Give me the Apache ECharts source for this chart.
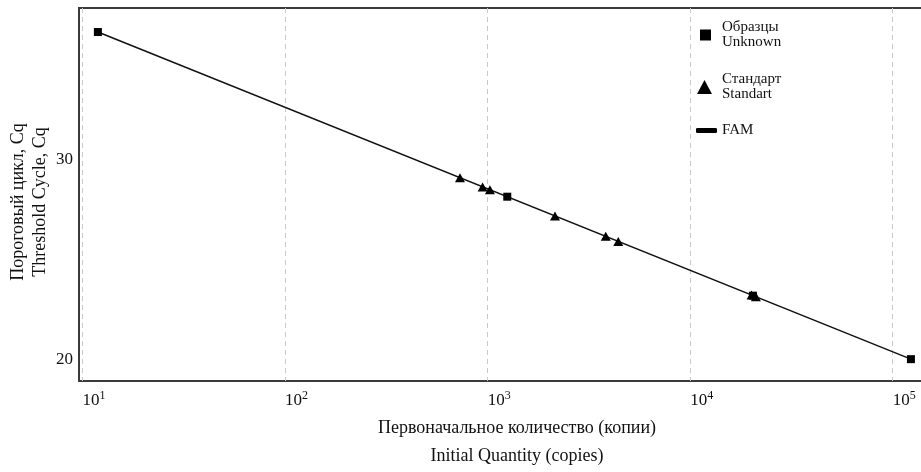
<!DOCTYPE html>
<html>
<head>
<meta charset="utf-8">
<script src="https://cdn.jsdelivr.net/npm/echarts@6/dist/echarts.min.js"></script>
<style>
  html, body { margin: 0; padding: 0; background: #fff; }
  #chart { width: 921px; height: 472px; }
</style>
</head>
<body>
<div id="chart"></div>
<script>
// образцы (unknown): initial quantity, copies / Cq
var unknownCopies = [11.9, 1250, 20400, 123000];
var unknownCq = [36.35, 28.13, 23.19, 20.02];
// стандарты
var standardCopies = [730, 944, 1026, 2150, 3830, 4415, 20100, 21100];
var standardCq = [29.08, 28.62, 28.48, 27.17, 26.15, 25.90, 23.22, 23.13];
// FAM standard curve
var famCopies = [11.9, 123000];
var famCq = [36.35, 20.02];
var yTicks = [20, 30];

var legendNames = {
  'Образцы': 'Образцы\nUnknown',
  'Стандарт': 'Стандарт\nStandart',
  'FAM': 'FAM'
};

function pairs(xs, ys) {
  return xs.map(function (x, i) { return [x, ys[i]]; });
}

var FONT = 'Liberation Serif';
var chart = echarts.init(document.getElementById('chart'));

var legendText = {
  fontFamily: FONT, fontSize: 15, color: '#111', lineHeight: 15, padding: [0, 0, 0, 6]
};
var gridLine = { color: '#c9c9c9', type: [5, 4], width: 1 };

var option = {
  animation: false,
  textStyle: { fontFamily: FONT },
  grid: {
    left: 79, top: 8, right: -34, bottom: 91,
    outerBoundsMode: 'none',
    containLabel: false,
    show: true, borderColor: '#3a3a3a', borderWidth: 2
  },
  legend: [
    {
      data: [{ name: 'Образцы', icon: 'rect' }],
      left: 700, top: 20, padding: 0,
      itemWidth: 11, itemHeight: 11,
      formatter: function (n) { return legendNames[n]; },
      textStyle: legendText
    },
    {
      data: [{ name: 'Стандарт', icon: 'triangle' }],
      left: 697, top: 72, padding: 0,
      itemWidth: 15, itemHeight: 14,
      formatter: function (n) { return legendNames[n]; },
      textStyle: Object.assign({}, legendText, { padding: [0, 0, 0, 5] })
    },
    {
      data: [{ name: 'FAM', icon: 'roundRect' }],
      left: 696, top: 123, padding: 0,
      itemWidth: 21, itemHeight: 5,
      formatter: function (n) { return legendNames[n]; },
      textStyle: Object.assign({}, legendText, { padding: [0, 0, 0, 0] })
    }
  ],
  xAxis: {
    type: 'log',
    logBase: 10,
    min: 9.6,
    max: 203000,
    name: 'Первоначальное количество (копии)\nInitial Quantity (copies)',
    nameLocation: 'middle',
    nameGap: 28,
    nameTextStyle: { fontFamily: FONT, fontSize: 18, color: '#111', lineHeight: 28 },
    axisLine: { show: false },
    axisTick: { show: false },
    axisLabel: {
      showMinLabel: false,
      showMaxLabel: false,
      align: 'left',
      margin: 9,
      formatter: function (v) {
        return '{b|10}{s|' + Math.round(Math.log10(v)) + '}';
      },
      rich: {
        b: { fontFamily: FONT, fontSize: 17, color: '#111', verticalAlign: 'bottom' },
        s: { fontFamily: FONT, fontSize: 12, color: '#111', verticalAlign: 'top', padding: [0, 0, 7, 0] }
      }
    },
    splitLine: { show: true, showMinLine: false, showMaxLine: false, lineStyle: gridLine }
  },
  yAxis: {
    type: 'value',
    min: 18.93,
    max: 37.55,
    name: 'Пороговый цикл, Cq\nThreshold Cycle, Cq',
    nameLocation: 'middle',
    nameMoveOverlap: false,
    nameGap: 28,
    nameTextStyle: {
      fontFamily: FONT, fontSize: 18, color: '#111', lineHeight: 22,
      padding: [0, 15, 0, 0]
    },
    axisLine: { show: false },
    axisTick: { show: false, customValues: yTicks },
    axisLabel: {
      customValues: yTicks,
      margin: 6,
      fontFamily: FONT, fontSize: 17, color: '#111'
    },
    splitLine: { show: true, showMinLine: false, showMaxLine: false, lineStyle: gridLine }
  },
  series: [
    {
      name: 'FAM',
      type: 'line',
      data: pairs(famCopies, famCq),
      showSymbol: false,
      symbol: 'none',
      itemStyle: { color: '#000' },
      lineStyle: { color: '#111', width: 1.5 },
      z: 2
    },
    {
      name: 'Стандарт',
      type: 'scatter',
      data: pairs(standardCopies, standardCq),
      symbol: 'triangle',
      symbolSize: [10, 9],
      itemStyle: { color: '#000', opacity: 1 },
      z: 3
    },
    {
      name: 'Образцы',
      type: 'scatter',
      data: pairs(unknownCopies, unknownCq),
      symbol: 'rect',
      symbolSize: 8,
      itemStyle: { color: '#000', opacity: 1 },
      z: 4
    }
  ]
};

chart.setOption(option);
</script>
</body>
</html>
